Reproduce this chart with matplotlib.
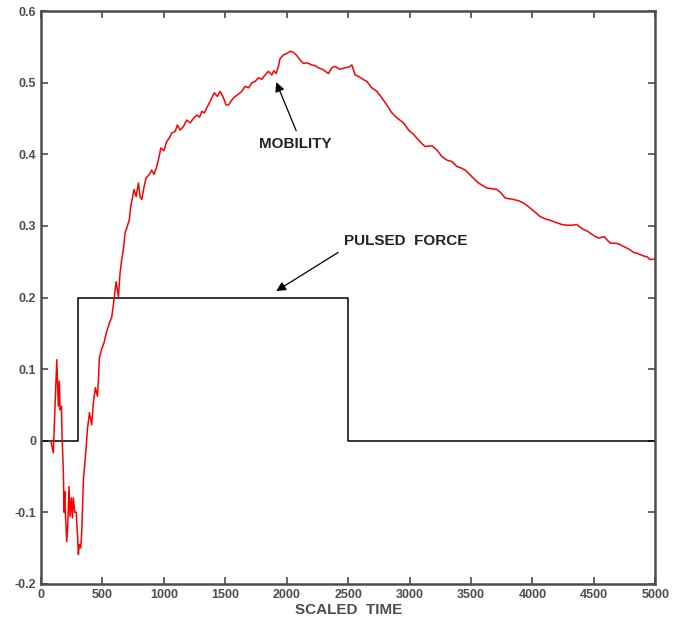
import matplotlib.pyplot as plt

# mobility response (scaled time, mobility)
mob_t = [79, 100, 128, 141, 149, 155, 166, 171, 182, 187, 193, 198, 209, 217, 228,
         236, 247, 255, 263, 274, 286, 296, 304, 312, 323, 331, 345, 361, 366, 377,
         394, 412, 426, 442, 459, 467, 475, 494, 513, 535, 562, 575, 594, 611, 630,
         643, 657, 670, 684, 703, 719, 730, 746, 757, 774, 793, 806, 820, 839, 855,
         882, 901, 920, 942, 964, 975, 1000, 1023, 1045, 1064, 1091, 1110, 1132, 1159,
         1186, 1213, 1240, 1268, 1290, 1309, 1330, 1349, 1382, 1410, 1435, 1458, 1485,
         1506, 1526, 1553, 1580, 1607, 1634, 1661, 1690, 1716, 1743, 1770, 1797, 1824,
         1851, 1879, 1895, 1914, 1932, 1946, 1973, 2001, 2028, 2050, 2077, 2109, 2136,
         2165, 2204, 2230, 2258, 2299, 2340, 2367, 2394, 2430, 2476, 2505, 2530, 2557,
         2584, 2620, 2652, 2693, 2734, 2774, 2815, 2856, 2897, 2951, 2992, 3032, 3073,
         3100, 3127, 3182, 3223, 3263, 3304, 3345, 3385, 3420, 3453, 3494, 3530, 3561,
         3600, 3629, 3670, 3711, 3745, 3779, 3815, 3846, 3890, 3928, 3960, 3996, 4030,
         4064, 4090, 4118, 4145, 4172, 4205, 4240, 4280, 4321, 4362, 4390, 4416, 4445,
         4471, 4505, 4539, 4585, 4610, 4634, 4665, 4701, 4735, 4769, 4800, 4823, 4850,
         4878, 4905, 4932, 4959, 5000]
mob_v = [0.000, -0.017, 0.113, 0.048, 0.083, 0.043, 0.048, 0.006, -0.045, -0.100,
         -0.071, -0.100, -0.141, -0.120, -0.064, -0.106, -0.080, -0.108, -0.080, -0.100,
         -0.100, -0.129, -0.159, -0.145, -0.150, -0.129, -0.054, -0.022, -0.013, 0.015,
         0.039, 0.022, 0.053, 0.074, 0.062, 0.085, 0.116, 0.128, 0.137, 0.153, 0.167,
         0.172, 0.197, 0.222, 0.201, 0.234, 0.253, 0.267, 0.290, 0.300, 0.309, 0.327,
         0.341, 0.351, 0.341, 0.360, 0.341, 0.337, 0.355, 0.367, 0.372, 0.378, 0.372,
         0.383, 0.399, 0.409, 0.405, 0.418, 0.423, 0.430, 0.432, 0.441, 0.434, 0.439,
         0.448, 0.444, 0.450, 0.455, 0.452, 0.460, 0.458, 0.465, 0.476, 0.486, 0.481,
         0.488, 0.479, 0.469, 0.469, 0.476, 0.481, 0.484, 0.488, 0.495, 0.493, 0.500,
         0.502, 0.507, 0.505, 0.511, 0.516, 0.511, 0.517, 0.513, 0.523, 0.534, 0.539,
         0.541, 0.544, 0.543, 0.539, 0.532, 0.527, 0.528, 0.525, 0.524, 0.521, 0.518,
         0.513, 0.521, 0.523, 0.519, 0.521, 0.522, 0.525, 0.511, 0.509, 0.505, 0.502,
         0.493, 0.488, 0.479, 0.469, 0.458, 0.451, 0.444, 0.434, 0.428, 0.420, 0.415,
         0.411, 0.412, 0.406, 0.397, 0.392, 0.390, 0.383, 0.381, 0.378, 0.371, 0.365,
         0.360, 0.356, 0.353, 0.352, 0.351, 0.346, 0.339, 0.338, 0.337, 0.335, 0.332,
         0.328, 0.323, 0.318, 0.313, 0.311, 0.309, 0.308, 0.306, 0.304, 0.302, 0.301,
         0.301, 0.302, 0.298, 0.295, 0.293, 0.290, 0.286, 0.283, 0.285, 0.280, 0.276,
         0.276, 0.275, 0.272, 0.269, 0.266, 0.263, 0.262, 0.260, 0.258, 0.257, 0.253,
         0.254]

# applied pulse
force_t = [0, 300, 300, 2500, 2500, 5000]
force_v = [0, 0, 0.2, 0.2, 0, 0]

xticks = [0, 500, 1000, 1500, 2000, 2500, 3000, 3500, 4000, 4500, 5000]
yticks = [-0.2, -0.1, 0, 0.1, 0.2, 0.3, 0.4, 0.5, 0.6]

plt.rcParams['font.family'] = ['Liberation Sans', 'DejaVu Sans']
plt.rcParams['font.weight'] = 'bold'
grey = '#4d4d4d'

fig = plt.figure(figsize=(6.84, 6.25), dpi=100)
ax = fig.add_axes([0.060, 0.066, 0.898, 0.916])

ax.plot(force_t, force_v, color='black', lw=1.1)
ax.plot(mob_t, mob_v, color='red', lw=1.1)

ax.set_xlim(0, 5000)
ax.set_ylim(-0.2, 0.6)
ax.set_xticks(xticks)
ax.set_yticks(yticks)
ax.set_xticklabels([str(t) for t in xticks])
ax.set_yticklabels(['-0.2', '-0.1', '0', '0.1', '0.2', '0.3', '0.4', '0.5', '0.6'])
ax.tick_params(direction='in', length=5, width=1.2, colors=grey, labelsize=9,
               top=True, right=True)
for s in ax.spines.values():
    s.set_color(grey)
    s.set_linewidth(1.8)
ax.set_xlabel('SCALED  TIME', fontsize=11, fontweight='bold', color=grey, labelpad=2)

arrow = dict(arrowstyle='-|>', color='black', lw=0.9, mutation_scale=14, shrinkA=0, shrinkB=0)
ax.annotate('', xy=(1914, 0.501), xytext=(2077, 0.433), arrowprops=arrow)
ax.text(2068, 0.415, 'MOBILITY', ha='center', va='center', fontsize=11,
        fontweight='bold', color='#222222')
ax.annotate('', xy=(1914, 0.209), xytext=(2419, 0.263), arrowprops=arrow)
ax.text(2972, 0.279, 'PULSED  FORCE', ha='center', va='center', fontsize=11,
        fontweight='bold', color='#222222')

fig.savefig('out.png', dpi=100)
